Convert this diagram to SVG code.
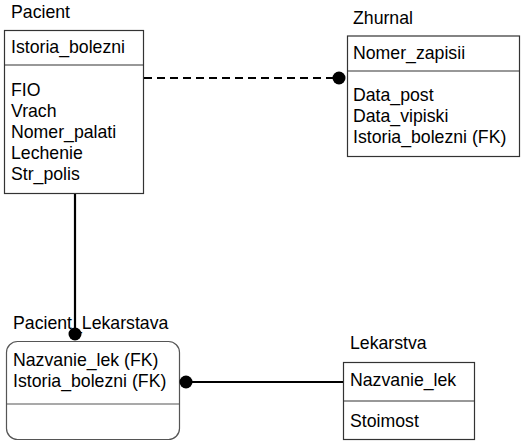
<svg xmlns="http://www.w3.org/2000/svg" width="526" height="445" viewBox="0 0 526 445">
<style>
text{font-family:"Liberation Sans",Arial,sans-serif;font-size:17.7px;fill:#000}
.box{fill:#fff;stroke:#333;stroke-width:1.2}
.div{stroke:#333;stroke-width:1.2}
.conn{stroke:#000;stroke-width:2.2;fill:none}
.dot{fill:#000}
</style>
<rect width="526" height="445" fill="#fff"/>
<g id="Pacient">
<text x="11" y="18">Pacient</text>
<rect class="box" x="4.5" y="30.5" width="139" height="163"/>
<line class="div" x1="4.5" y1="65" x2="143.5" y2="65"/>
<text x="11" y="53">Istoria_bolezni</text>
<text x="11" y="96">FIO</text>
<text x="11" y="117">Vrach</text>
<text x="11" y="138">Nomer_palati</text>
<text x="11" y="159">Lechenie</text>
<text x="11" y="180">Str_polis</text>
</g>
<g id="Zhurnal">
<text x="353" y="24">Zhurnal</text>
<rect class="box" x="347.5" y="36" width="172" height="120.5"/>
<line class="div" x1="347.5" y1="71" x2="519.5" y2="71"/>
<text x="353" y="59">Nomer_zapisii</text>
<text x="353" y="101">Data_post</text>
<text x="353" y="122">Data_vipiski</text>
<text x="353" y="143">Istoria_bolezni (FK)</text>
</g>
<g id="Pacient_Lekarstava">
<text x="13" y="329">Pacient_Lekarstava</text>
<rect class="box" x="6.5" y="341.5" width="173" height="98" rx="11" ry="11" style="stroke:#555"/>
<line class="div" x1="6.5" y1="404" x2="179.5" y2="404" style="stroke:#555"/>
<text x="13" y="366">Nazvanie_lek (FK)</text>
<text x="13" y="387">Istoria_bolezni (FK)</text>
</g>
<g id="Lekarstva">
<text x="350" y="349">Lekarstva</text>
<rect class="box" x="343.5" y="362.5" width="131" height="77"/>
<line class="div" x1="343.5" y1="401" x2="474.5" y2="401"/>
<text x="350" y="386">Nazvanie_lek</text>
<text x="350" y="427">Stoimost</text>
</g>
<g id="connectors">
<line class="conn" x1="144" y1="78" x2="339" y2="78" stroke-dasharray="8,5"/>
<circle class="dot" cx="339" cy="78" r="6.5"/>
<line class="conn" x1="75" y1="194" x2="75" y2="334"/>
<circle class="dot" cx="75" cy="334" r="6.5"/>
<line class="conn" x1="186" y1="382" x2="343" y2="382"/>
<circle class="dot" cx="186" cy="382" r="6.5"/>
</g>
</svg>
